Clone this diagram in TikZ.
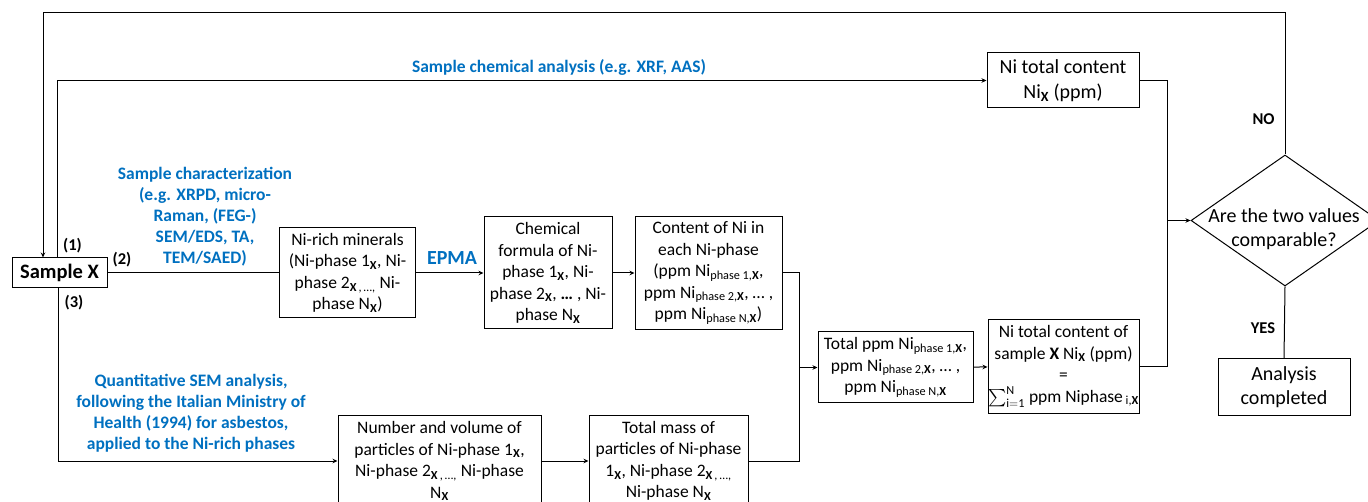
\documentclass[tikz,border=0pt]{standalone}
\usepackage{exscale}
\usepackage{fontspec}
\setmainfont{Carlito}
\usetikzlibrary{shapes.geometric,arrows.meta}
\definecolor{blueT}{RGB}{0,112,192}
\newcommand\subX{\textsubscript{\textbf{X}}}
\newcommand\subT[1]{\textsubscript{#1}}
\begin{document}
\begin{tikzpicture}[x=1pt,y=-1pt,
  line width=1pt,
  arr/.style={-{Stealth[length=5pt,width=4.5pt]}},
  txt/.style={font=\fontsize{17.5}{21.5}\selectfont},
  big/.style={font=\fontsize{20}{24.5}\selectfont},
  box/.style={draw, align=center, inner sep=0pt},
  bluelab/.style={text=blueT, align=center, font=\fontsize{17.5}{21}\selectfont\bfseries},
  lab/.style={font=\fontsize{16.5}{20}\selectfont\bfseries}]
\useasboundingbox (0,0) rectangle (1368,502);
\clip (0,0) rectangle (1368,502);

% boxes
\node[box, minimum width=95, minimum height=30, font=\fontsize{20.5}{24}\selectfont\bfseries] (sx) at (59.5,273) {Sample X};
\node[box, txt, minimum width=136, minimum height=90] (nirich) at (347.5,273)
  {Ni-rich minerals\\(Ni-phase 1\subX, Ni-\\phase 2\subT{\textbf{X}\,,\,…,} Ni-\\phase N\subX)};
\node[box, txt, minimum width=128, minimum height=112] (chem) at (548,273)
  {Chemical\\formula of Ni-\\phase 1\subX, Ni-\\phase 2\subX, \textbf{…} , Ni-\\phase N\subX};
\node[box, txt, minimum width=147, minimum height=113] (content) at (708.5,273)
  {Content of Ni in\\each Ni-phase\\(ppm Ni\subT{phase 1,\textbf{X}},\\ppm Ni\subT{phase 2,\textbf{X}}, … ,\\ppm Ni\subT{phase N,\textbf{X}})};
\node[box, txt, minimum width=155, minimum height=71] (total) at (895.5,367.5)
  {Total ppm Ni\subT{phase 1,\textbf{X}},\\ppm Ni\subT{phase 2,\textbf{X}}, … ,\\ppm Ni\subT{phase N,\textbf{X}}};
\node[box, txt, minimum width=151, minimum height=93] (nitot2) at (1063.5,366.5)
  {Ni total content of\\sample \textbf{X} Ni\subX{} (ppm)\\=\\$\sum_{\mathrm{i=1}}^{\mathrm{N}}$ ppm Niphase\subT{ i,\textbf{X}}};
\node[box, big, minimum width=152, minimum height=55] (nitot1) at (1063,80.5)
  {Ni total content\\Ni\subX{} (ppm)};
\node[box, big, minimum width=132, minimum height=56] (analysis) at (1284,387)
  {Analysis\\completed};
\node[box, txt, minimum width=203, minimum height=92] (number) at (439.5,461)
  {Number and volume of\\particles of Ni-phase 1\subX,\\Ni-phase 2\subT{\textbf{X}\,,\,…,} Ni-phase\\N\subX};
\node[box, txt, minimum width=159, minimum height=92] (totmass) at (668.5,461)
  {Total mass of\\particles of Ni-phase\\1\subX, Ni-phase 2\subT{\textbf{X}\,,\,…,}\\Ni-phase N\subX};
\node[draw, diamond, minimum width=188, minimum height=131, inner sep=0pt] (dia) at (1285,220.5) {};
\node[big, align=center] (diatext) at (1284,229) {Are the two values\\comparable?};

% labels
\node[bluelab] (chemlab) at (559,67) {Sample chemical analysis (e.g. XRF, AAS)};
\node[bluelab] (charlab) at (205,217) {Sample characterization\\(e.g. XRPD, micro-\\Raman, (FEG-)\\SEM/EDS, TA,\\TEM/SAED)};
\node[bluelab] (quantlab) at (191,413.5) {Quantitative SEM analysis,\\following the Italian Ministry of\\Health (1994) for asbestos,\\applied to the Ni-rich phases};
\node[text=blueT, font=\fontsize{20}{24}\selectfont\bfseries] (epma) at (452,258) {EPMA};
\node[lab] (l1) at (72.5,246) {(1)};
\node[lab] (l2) at (122,260) {(2)};
\node[lab] (l3) at (74,303) {(3)};
\node[lab] (no) at (1263.5,119) {NO};
\node[lab] (yes) at (1263,328) {YES};

% junction coordinates
\coordinate (tl) at (43,12.7);
\coordinate (c1) at (57,0);
\coordinate (c3) at (58,0);
\coordinate (j1) at (799,367.5);
\coordinate (j2) at (1167,220.5);

% connectors
\draw[arr] (dia.north) |- (tl) -- (sx.north -| tl);
\draw[arr] (sx.north -| c1) |- (nitot1.west);
\draw (sx.east) -- (nirich.west);
\draw[arr] (nirich) -- (chem);
\draw[arr] (chem) -- (content);
\draw[arr] (sx.south -| c3) |- (number.west);
\draw[arr] (number) -- (totmass);
\draw (content.east) -| (j1);
\draw (totmass.east) -| (j1);
\draw[arr] (j1) -- (total.west);
\draw[arr] (total) -- (nitot2);
\draw (nitot1.east) -| (j2);
\draw (nitot2.east) -| (j2);
\draw[arr] (j2) -- (dia.west);
\draw (dia.south) -- (analysis.north);
\end{tikzpicture}
\end{document}
